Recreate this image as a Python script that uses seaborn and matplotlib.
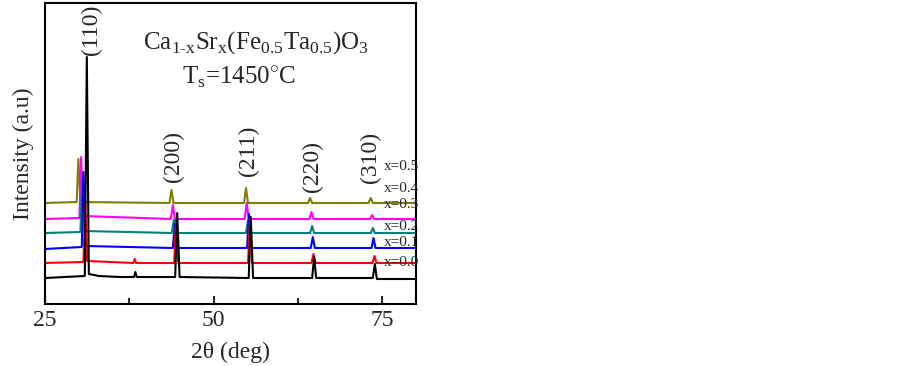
import seaborn as sns
import matplotlib.pyplot as plt

# XRD patterns (2theta in deg, intensity in a.u., offsets included)
tt_00 = [25, 30.9, 31.2, 31.5, 33, 36, 38.2, 38.4, 38.6, 44.3, 44.6, 44.95, 55.2, 55.5, 55.85, 64.6, 64.9, 65.2, 73.6, 73.9, 74.2, 80]
int_00 = [26, 28, 247, 30, 28, 27, 27, 32, 27, 27, 91, 27, 26, 87, 26, 26, 47, 26, 26, 40, 25, 25]

tt_01 = [25, 30.7, 30.95, 31.25, 38.1, 38.3, 38.5, 44.15, 44.45, 44.75, 55.1, 55.4, 55.7, 64.5, 64.8, 65.1, 73.55, 73.85, 74.15, 80]
int_01 = [41, 42, 100, 43, 41, 45, 41, 41, 85, 41, 41, 85, 41, 41, 50, 41, 41, 48, 41, 41]

tt_02 = [25, 30.45, 30.7, 31.0, 43.95, 44.25, 44.55, 54.95, 55.25, 55.55, 64.4, 64.7, 65.0, 73.4, 73.7, 74.0, 80]
int_02 = [55, 57, 132, 58, 56, 80, 56, 56, 90, 56, 56, 67, 56, 56, 66, 56, 56]

tt_03 = [25, 30.25, 30.5, 30.8, 43.8, 44.1, 44.4, 54.8, 55.1, 55.4, 64.3, 64.6, 64.9, 73.3, 73.6, 73.9, 80]
int_03 = [71, 72, 125, 73, 71, 84, 71, 71, 84, 71, 71, 78, 71, 71, 76, 71, 71]

tt_04 = [25, 30.1, 30.36, 30.65, 43.65, 43.95, 44.25, 54.6, 54.9, 55.2, 64.2, 64.5, 64.8, 73.2, 73.5, 73.8, 80]
int_04 = [85, 86, 147, 88, 85, 99, 85, 85, 101, 85, 85, 92, 85, 85, 89, 85, 85]

tt_05 = [25, 29.7, 29.95, 30.25, 43.45, 43.75, 44.05, 54.5, 54.8, 55.1, 64.0, 64.3, 64.6, 72.95, 73.3, 73.6, 80]
int_05 = [101, 102, 145, 102, 101, 114, 101, 101, 116, 101, 101, 106, 101, 101, 106, 101, 101]

samples = ['x=0.5', 'x=0.4', 'x=0.3', 'x=0.2', 'x=0.1', 'x=0.0']
colors = ['#808000', '#ff00ff', '#008080', '#0000ff', '#ff0000', '#000000']
patterns = [(tt_05, int_05), (tt_04, int_04), (tt_03, int_03),
            (tt_02, int_02), (tt_01, int_01), (tt_00, int_00)]
label_y = [138, 116, 100, 78, 62, 42]

# hkl labels
hkl = ['(110)', '(200)', '(211)', '(220)', '(310)']
hkl_x = [31.95, 44.1, 55.1, 64.7, 73.3]
hkl_y = [274, 147, 153, 138, 147]

sns.set_style('ticks')
plt.rcParams['font.family'] = ['Liberation Serif', 'DejaVu Serif']
plt.rcParams['mathtext.fontset'] = 'custom'
plt.rcParams['mathtext.rm'] = 'Liberation Serif'

fig = plt.figure(figsize=(9.03, 3.66), dpi=100)
ax = fig.add_axes([45 / 903, 62 / 366, 371 / 903, 301 / 366])

for (tt, inten), c in zip(patterns, colors):
    sns.lineplot(x=tt, y=inten, color=c, lw=1.5, ax=ax, estimator=None, sort=False)

for s, y in zip(samples, label_y):
    ax.text(75.2, y, s, fontsize=11, va='center', ha='left', clip_on=False)

for h, x, y in zip(hkl, hkl_x, hkl_y):
    ax.text(x, y, h, fontsize=17, rotation=90, ha='center', va='center')

# formula, bigger subscripts like the original
sub = r'$_{\mathregular{%s}}$'
formula = 'Ca' + sub % '1\\text{-}x' + 'Sr' + sub % 'x' + '(Fe' + sub % '0.5' + 'Ta' + sub % '0.5' + ')O' + sub % '3'
ax.text(56.3, 261, formula, fontsize=18, ha='center', va='center')
ax.text(53.7, 226, r'T$_{\mathregular{s}}$=1450$^{\circ}$C', fontsize=18, ha='center', va='center')

ax.set_xlim(25, 80)
ax.set_ylim(0, 301)
ax.set_xticks([25, 50, 75])
ax.set_xticks([37.5, 62.5], minor=True)
ax.set_yticks([])
ax.tick_params(axis='x', which='major', direction='in', length=6, width=1.5, labelsize=17, pad=4)
ax.tick_params(axis='x', which='minor', direction='in', length=4, width=1.5)
for sp in ax.spines.values():
    sp.set_linewidth(1.5)
    sp.set_color('black')
ax.set_xlabel('2θ (deg)', fontsize=17, labelpad=8)
ax.set_ylabel('Intensity (a.u)', fontsize=17, labelpad=8)

plt.savefig('out.png', dpi=100)
